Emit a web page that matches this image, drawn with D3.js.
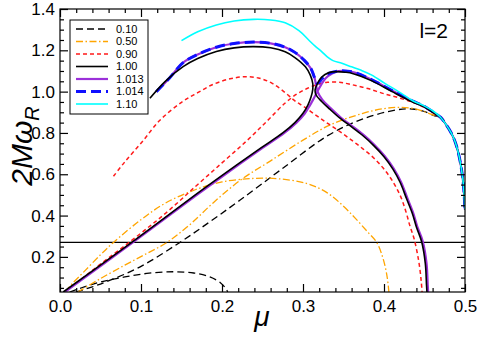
<!DOCTYPE html>
<html>
<head>
<meta charset="utf-8">
<script src="https://cdn.jsdelivr.net/npm/d3@7"></script>
<style>
  body { margin: 0; background: #fff; }
  svg { display: block; font-family: "Liberation Sans", Arial, sans-serif; }
</style>
</head>
<body>
<script>
// legend labels and series colours
const labels = ["0.10", "0.50", "0.90", "1.00", "1.013", "1.014", "1.10"];
const xTicks = [0, 0.1, 0.2, 0.3, 0.4, 0.5];
const yTicks = [0.2, 0.4, 0.6, 0.8, 1.0, 1.2, 1.4];
const hLine = 0.27;

// shared right-edge tail where all curves merge
const tail = [[0.47,0.875],[0.477,0.838],[0.483,0.80],[0.488,0.755],[0.492,0.70],[0.495,0.64],[0.4975,0.57],[0.499,0.50],[0.4998,0.43]];

// 0.10 (black dashed)
const s010a = [[0.012,0.03],[0.03,0.055],[0.05,0.078],[0.08,0.103],[0.11,0.121],[0.14,0.128],[0.165,0.122],[0.185,0.103],[0.198,0.075],[0.205,0.045],[0.207,0.03]];
const s010b = [[0.02,0.03],[0.04,0.055],[0.062,0.087],[0.099,0.152],[0.148,0.27],[0.185,0.37],[0.222,0.474],[0.272,0.62],[0.331,0.788],[0.374,0.868],[0.416,0.912],[0.435,0.916],[0.449,0.905],[0.461,0.885]];

// 0.50 (orange dash-dot)
const s050a = [[0.006,0.03],[0.015,0.07],[0.03,0.13],[0.05,0.21],[0.066,0.27],[0.10,0.38],[0.13,0.46],[0.167,0.525],[0.20,0.563],[0.24,0.58],[0.27,0.578],[0.305,0.555],[0.33,0.51],[0.35,0.445],[0.365,0.385],[0.38,0.32],[0.391,0.27],[0.399,0.19],[0.404,0.10],[0.406,0.03]];
const s050b = [[0.022,0.03],[0.05,0.095],[0.08,0.16],[0.105,0.212],[0.132,0.27],[0.16,0.355],[0.19,0.465],[0.224,0.575],[0.26,0.665],[0.30,0.765],[0.333,0.838],[0.374,0.895],[0.40,0.918],[0.42,0.924],[0.44,0.915],[0.457,0.892],[0.465,0.88]];

// 0.90 (red dashed)
const s090a = [[0.066,0.59],[0.08,0.66],[0.101,0.755],[0.123,0.86],[0.15,0.948],[0.17,0.995],[0.189,1.035],[0.21,1.062],[0.228,1.072],[0.245,1.066],[0.262,1.04],[0.278,0.995],[0.29,0.955],[0.302,0.925],[0.318,0.88],[0.331,0.845],[0.346,0.805],[0.36,0.765],[0.374,0.723],[0.387,0.68],[0.399,0.63],[0.41,0.57],[0.42,0.497],[0.427,0.42],[0.432,0.35],[0.437,0.29],[0.441,0.22],[0.444,0.15],[0.446,0.08],[0.447,0.03]];
const s090b = [[0.006,0.03],[0.04,0.135],[0.0885,0.28],[0.13,0.41],[0.167,0.54],[0.20,0.655],[0.23,0.76],[0.255,0.855],[0.278,0.945],[0.293,0.99],[0.305,1.015],[0.318,1.035],[0.33,1.045],[0.345,1.045],[0.36,1.034],[0.38,1.015],[0.40,0.99],[0.42,0.968],[0.44,0.942],[0.455,0.912],[0.465,0.885]];

// 1.00 (black solid)
const s100a = [[0.004,0.03],[0.0885,0.27],[0.167,0.5],[0.22,0.65],[0.249,0.73],[0.275,0.8],[0.29,0.85],[0.30,0.895],[0.306,0.935],[0.31,0.975],[0.312,1.01],[0.312,1.04],[0.309,1.08],[0.303,1.12],[0.29,1.165],[0.278,1.193],[0.26,1.212],[0.239,1.218],[0.215,1.212],[0.193,1.194],[0.17,1.16],[0.152,1.121],[0.13,1.05],[0.111,0.968]];
const s100b = [[0.453,0.03],[0.4525,0.063],[0.451,0.168],[0.4465,0.273],[0.44,0.345],[0.435,0.41],[0.428,0.48],[0.42,0.56],[0.411,0.625],[0.40,0.685],[0.387,0.74],[0.373,0.79],[0.358,0.835],[0.346,0.87],[0.333,0.915],[0.323,0.952],[0.316,0.985],[0.315,1.01],[0.318,1.04],[0.323,1.07],[0.332,1.092],[0.342,1.097],[0.352,1.094],[0.362,1.087],[0.385,1.052],[0.41,1.0],[0.434,0.952],[0.45,0.925],[0.462,0.895]];

// 1.013 (purple)
const s1013a = [[0.006,0.03],[0.09,0.27],[0.169,0.5],[0.222,0.65],[0.251,0.73],[0.277,0.8],[0.292,0.85],[0.302,0.893],[0.308,0.93],[0.313,0.965],[0.317,0.995],[0.322,1.03],[0.328,1.065],[0.336,1.088],[0.344,1.099],[0.355,1.099],[0.365,1.091],[0.385,1.057],[0.41,1.005],[0.434,0.957],[0.45,0.928],[0.462,0.897]];
const s1013b = [[0.119,1.0],[0.135,1.065],[0.152,1.14],[0.17,1.18],[0.193,1.215],[0.215,1.233],[0.239,1.24],[0.26,1.234],[0.278,1.215],[0.29,1.19],[0.302,1.15],[0.31,1.11],[0.314,1.07],[0.316,1.035],[0.318,1.0],[0.324,0.96],[0.334,0.92],[0.347,0.873],[0.359,0.838],[0.374,0.793],[0.388,0.743],[0.401,0.688],[0.412,0.628],[0.421,0.563],[0.429,0.483],[0.436,0.413],[0.441,0.348],[0.4478,0.276],[0.4525,0.17],[0.454,0.065],[0.4545,0.03]];

// 1.014 (blue dashed)
const s1014a = [[0.119,1.0],[0.135,1.065],[0.152,1.14],[0.17,1.18],[0.193,1.215],[0.215,1.233],[0.239,1.24],[0.26,1.234],[0.278,1.215],[0.29,1.19],[0.302,1.15],[0.31,1.11],[0.314,1.07],[0.318,1.04],[0.324,1.065],[0.332,1.088],[0.344,1.1],[0.355,1.099],[0.365,1.091],[0.385,1.057],[0.41,1.005],[0.434,0.957],[0.45,0.928],[0.462,0.897]];

// 1.10 (cyan)
const s110a = [[0.15,1.247],[0.17,1.29],[0.193,1.323],[0.215,1.342],[0.239,1.35],[0.26,1.347],[0.278,1.333],[0.295,1.295],[0.307,1.25],[0.315,1.22],[0.323,1.194],[0.33,1.168],[0.337,1.15],[0.348,1.137],[0.36,1.12],[0.372,1.103],[0.385,1.08],[0.401,1.04],[0.418,1.0],[0.436,0.955],[0.45,0.93],[0.461,0.905]];

const styles = [
  { color: "#000000", width: 1.3, dash: "7,4" },
  { color: "#ffa500", width: 1.3, dash: "7,2.5,1.5,2.5" },
  { color: "#ff1a1a", width: 1.5, dash: "4,3" },
  { color: "#000000", width: 1.6, dash: null },
  { color: "#9b30d9", width: 2.2, dash: null },
  { color: "#1010ff", width: 3, dash: "10,5" },
  { color: "#00ffff", width: 1.6, dash: null }
];

// branches per series (legend index) in draw order
const branches = [
  { s: 0, pts: s010a }, { s: 0, pts: s010b.concat(tail) },
  { s: 1, pts: s050a }, { s: 1, pts: s050b.concat(tail) },
  { s: 2, pts: s090a }, { s: 2, pts: s090b.concat(tail) },
  { s: 4, pts: s1013a.concat(tail) }, { s: 4, pts: s1013b },
  { s: 5, pts: s1014a.concat(tail) },
  { s: 3, pts: s100a }, { s: 3, pts: s100b.concat(tail) },
  { s: 6, pts: s110a.concat(tail) }
];

const width = 480, height = 337;
const margin = { left: 60, right: 15, top: 9, bottom: 45 };

const x = d3.scaleLinear().domain([0, 0.5]).range([margin.left, width - margin.right]);
const y = d3.scaleLinear().domain([0.03, 1.4]).range([height - margin.bottom, margin.top]);

const svg = d3.select("body").append("svg")
  .attr("width", width)
  .attr("height", height);

// clip to plot area
svg.append("clipPath").attr("id", "clip")
  .append("rect")
  .attr("x", x(0)).attr("y", y(1.4))
  .attr("width", x(0.5) - x(0)).attr("height", y(0.03) - y(1.4));

const line = d3.line()
  .x(d => x(d[0]))
  .y(d => y(d[1]))
  .curve(d3.curveCatmullRom.alpha(0.5));

const plot = svg.append("g").attr("clip-path", "url(#clip)");

// horizontal reference line
plot.append("line")
  .attr("x1", x(0)).attr("x2", x(0.5))
  .attr("y1", y(hLine)).attr("y2", y(hLine))
  .attr("stroke", "#000").attr("stroke-width", 1.2);

plot.selectAll("path.curve")
  .data(branches)
  .join("path")
  .attr("class", "curve")
  .attr("fill", "none")
  .attr("d", d => line(d.pts))
  .attr("stroke", d => styles[d.s].color)
  .attr("stroke-width", d => styles[d.s].width)
  .attr("stroke-dasharray", d => styles[d.s].dash);

// axes: ticks inside on all four sides
const xMinor = d3.range(0.02, 0.5, 0.02).filter(v => Math.abs(v * 10 - Math.round(v * 10)) > 1e-6);
const yMinor = d3.range(0.05, 1.4, 0.05).filter(v => Math.abs(v * 5 - Math.round(v * 5)) > 1e-6);

function styleAxis(g) {
  g.select(".domain").remove();
  g.selectAll("line").attr("stroke", "#000").attr("stroke-width", 1.2);
  g.selectAll("text").attr("font-size", 17).attr("fill", "#000");
}

svg.append("g")
  .attr("transform", `translate(0,${y(0.03)})`)
  .call(d3.axisBottom(x).tickValues(xTicks).tickSize(-8).tickPadding(8).tickFormat(d3.format(".1f")))
  .call(styleAxis);
svg.append("g")
  .attr("transform", `translate(0,${y(0.03)})`)
  .call(d3.axisBottom(x).tickValues(xMinor).tickSize(-4).tickFormat(""))
  .call(styleAxis);
svg.append("g")
  .attr("transform", `translate(0,${y(1.4)})`)
  .call(d3.axisTop(x).tickValues(xTicks).tickSize(-8).tickFormat(""))
  .call(styleAxis);
svg.append("g")
  .attr("transform", `translate(0,${y(1.4)})`)
  .call(d3.axisTop(x).tickValues(xMinor).tickSize(-4).tickFormat(""))
  .call(styleAxis);

svg.append("g")
  .attr("transform", `translate(${x(0)},0)`)
  .call(d3.axisLeft(y).tickValues(yTicks).tickSize(-8).tickPadding(5).tickFormat(d3.format(".1f")))
  .call(styleAxis);
svg.append("g")
  .attr("transform", `translate(${x(0)},0)`)
  .call(d3.axisLeft(y).tickValues(yMinor).tickSize(-4).tickFormat(""))
  .call(styleAxis);
svg.append("g")
  .attr("transform", `translate(${x(0.5)},0)`)
  .call(d3.axisRight(y).tickValues(yTicks).tickSize(-8).tickFormat(""))
  .call(styleAxis);
svg.append("g")
  .attr("transform", `translate(${x(0.5)},0)`)
  .call(d3.axisRight(y).tickValues(yMinor).tickSize(-4).tickFormat(""))
  .call(styleAxis);

// frame
svg.append("rect")
  .attr("x", x(0)).attr("y", y(1.4))
  .attr("width", x(0.5) - x(0)).attr("height", y(0.03) - y(1.4))
  .attr("fill", "none").attr("stroke", "#000").attr("stroke-width", 1.2);

// axis titles
svg.append("text")
  .attr("x", 262).attr("y", 326)
  .attr("text-anchor", "middle")
  .attr("font-size", 28)
  .attr("font-style", "italic")
  .text("μ");

const yl = svg.append("text")
  .attr("transform", "translate(32,146) rotate(-90)")
  .attr("text-anchor", "middle")
  .attr("font-size", 30)
  .attr("font-style", "italic");
yl.append("tspan").text("2Mω");
yl.append("tspan").attr("font-size", 20).attr("dy", 7).text("R");

// l=2 label
svg.append("text")
  .attr("x", 448).attr("y", 38)
  .attr("text-anchor", "end")
  .attr("font-size", 21)
  .text("l=2");

// legend
const legend = svg.append("g").attr("transform", "translate(70,20)");
legend.append("rect")
  .attr("width", 78).attr("height", 94)
  .attr("fill", "#fff").attr("stroke", "#000").attr("stroke-width", 1);

const item = legend.selectAll("g.item")
  .data(labels)
  .join("g")
  .attr("class", "item")
  .attr("transform", (d, i) => `translate(0,${9 + i * 12.5})`);

item.append("line")
  .attr("x1", 6).attr("x2", 38)
  .attr("stroke", (d, i) => styles[i].color)
  .attr("stroke-width", (d, i) => styles[i].width)
  .attr("stroke-dasharray", (d, i) => styles[i].dash);

item.append("text")
  .attr("x", 46).attr("dy", "0.35em")
  .attr("font-size", 11)
  .text(d => d);
</script>
</body>
</html>
